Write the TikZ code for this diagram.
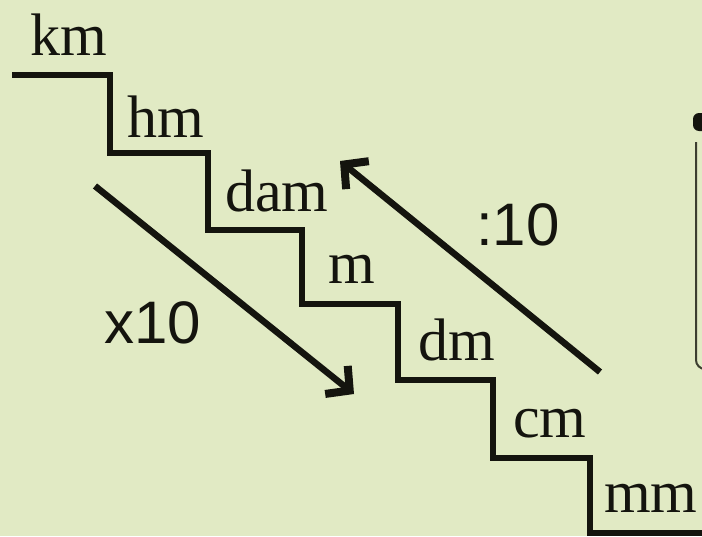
\documentclass[tikz,border=0pt]{standalone}
\usepackage{fontspec}
\setmainfont{Liberation Serif}
\setsansfont{Liberation Sans}
\usetikzlibrary{arrows.meta}
\definecolor{paper}{RGB}{225,234,196}
\definecolor{ink}{RGB}{20,20,14}
\definecolor{frame}{RGB}{60,62,48}

\begin{document}
\begin{tikzpicture}[
  x=1pt, y=-1pt,
  >={Straight Barb[length=17pt,width=36pt,line width=8pt,sharp]},
  stair/.style={ink, line width=6.5pt, line join=miter},
  unit/.style={font=\fontsize{60}{60}\selectfont, inner sep=0pt, anchor=base west, ink},
  factor/.style={font=\sffamily\fontsize{60}{60}\selectfont, inner sep=0pt, anchor=base, ink},
  conv/.style={ink, line width=6.5pt, ->},
]
  % Background
  \fill[paper] (0,0) rectangle (702,536);
  \useasboundingbox (0,0) rectangle (702,536);
  \clip (0,0) rectangle (702,536);

  % Staircase
  \draw[stair] (12,75) -- (110,75) -- (110,153) -- (208,153) -- (208,230)
    -- (302,230) -- (302,304) -- (398,304) -- (398,380) -- (493,380)
    -- (493,458) -- (590,458) -- (590,533) -- (710,533);

  % Units on the steps
  \foreach \x/\y/\name/\lab in {30/55/km/km, 127/137/hm/hm, 225/211/dam/dam,
      328/283/m/m, 418/360/dm/dm, 513/437/cm/cm, 604/512/mm/mm} {
    \node[unit] (\name) at (\x,\y) {\lab};
  }

  % Conversion arrows
  \coordinate (downA) at (95,186);
  \coordinate (downB) at (354,394);
  \coordinate (upA) at (600,372);
  \coordinate (upB) at (340,161);
  \draw[conv] (downA) -- (downB);
  \draw[conv] (upA) -- (upB);
  \node[factor] (times) at (153,343) {x10};
  \node[factor] (divide) at (518,245) {:10};

  % Edge of the box on the right
  \draw[frame, line width=2pt, rounded corners=9pt] (696,142) -- (696,369) -- (720,369);
  \fill[ink, rounded corners=6pt] (693,131) -- (693,113) -- (720,113) -- (720,131) -- cycle;
\end{tikzpicture}
\end{document}
